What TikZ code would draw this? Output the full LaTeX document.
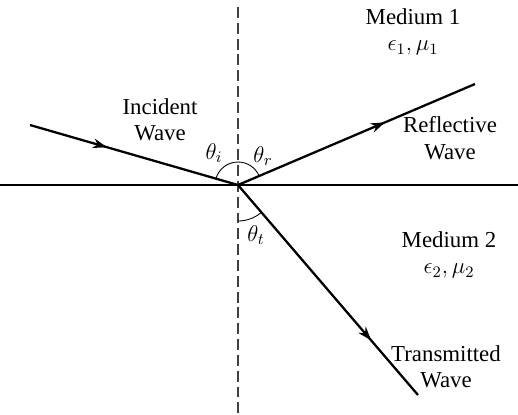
\RequirePackage{fix-cm}
\documentclass[tikz,border=0pt]{standalone}
\usepackage{fontspec}
\setmainfont{Liberation Serif}
\usetikzlibrary{decorations.markings,arrows.meta,calc}

\begin{document}
\begin{tikzpicture}[x=0.02cm,y=-0.02cm]
  \tikzset{
    wave ray/.style={
      draw=black,
      line width=1.3pt,
      postaction={decorate},
      decoration={markings,
        mark=at position #1 with {\arrow{Stealth[length=8pt,width=5.5pt]}}},
    },
    wave ray/.default=0.5,
    wave label/.style={font=\fontsize{13}{15}\selectfont, align=center},
    angle label/.style={font=\fontsize{13}{15}\selectfont, inner sep=0pt},
  }
  \useasboundingbox (0,0) rectangle (518,414);

  \coordinate (O) at (238,185);
  \coordinate (normtop) at (238,7);
  \coordinate (normbot) at (238,414);
  \coordinate (left) at (0,185);
  \coordinate (right) at (518,185);
  \coordinate (src) at (30,125);
  \coordinate (refl) at (475,84);
  \coordinate (trans) at (418,395);

  % interface and normal
  \draw[line width=0.6pt] (left) -- (right);
  \draw[line width=0.9pt, black!75, dash pattern=on 6.2pt off 2.8pt] (normtop) -- (normbot);

  % rays
  \draw[wave ray=0.37] (src) -- (O);
  \draw[wave ray=0.62] (O) -- (refl);
  \draw[wave ray=0.74] (O) -- (trans);

  % angles (y axis points down, so angles are mirrored)
  \draw[line width=0.5pt] ($(O)+(0,-23)$) arc[start angle=-90, end angle=-164, radius=23];
  \draw[line width=0.5pt] ($(O)+(0,-23)$) arc[start angle=-90, end angle=-23, radius=23];
  \draw[line width=0.5pt] ($(O)+(0,36)$) arc[start angle=90, end angle=49, radius=36];

  \node[angle label] (thi) at (214,153) {$\theta_i$};
  \node[angle label] (thr) at (263,156) {$\theta_r$};
  \node[angle label] (tht) at (256,235) {$\theta_t$};

  % labels
  \node[wave label] (inc) at (160,120) {Incident\\Wave};
  \node[wave label] (med1) at (413,32) {Medium 1\\$\epsilon_1, \mu_1$};
  \node[wave label] (rfl) at (450,138) {Reflective\\Wave};
  \node[wave label] (med2) at (449,255) {Medium 2\\$\epsilon_2, \mu_2$};
  \node[wave label] (trn) at (446,367) {Transmitted\\Wave};
\end{tikzpicture}
\end{document}
